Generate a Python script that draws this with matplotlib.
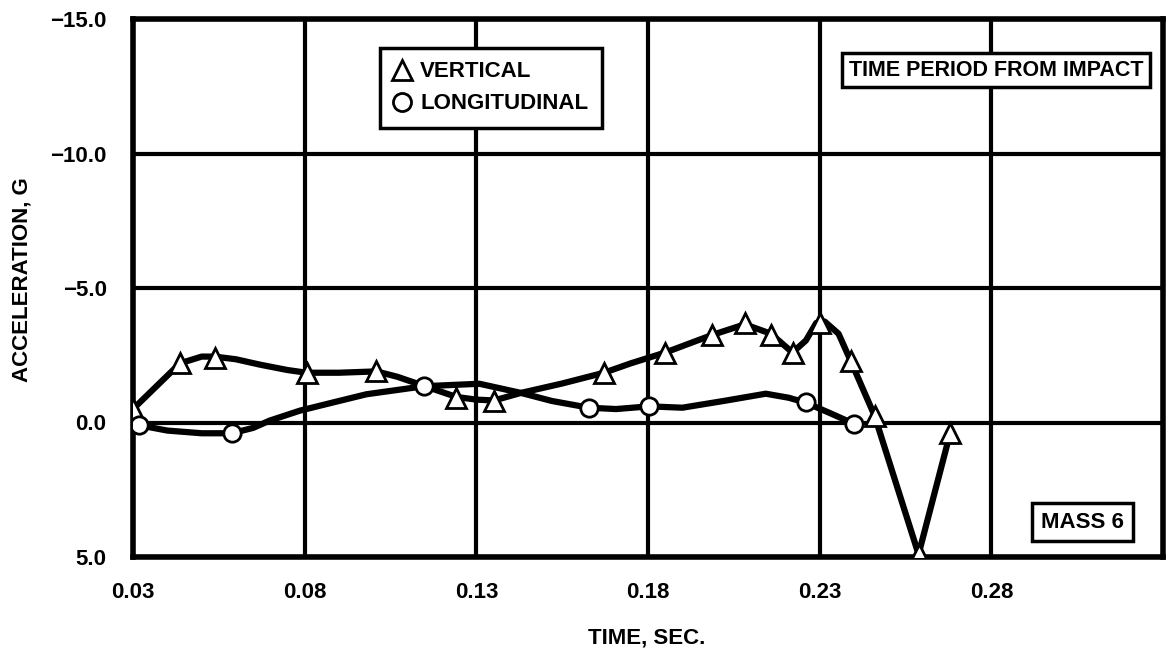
import matplotlib
matplotlib.use("Agg")
import matplotlib.pyplot as plt
from matplotlib.lines import Line2D

# ── Data ──────────────────────────────────────────────────────────────────────
# marker positions (time in s, acceleration in g; negative = up on the plot)
vert_t = [0.030, 0.0437, 0.0538, 0.0806, 0.1009, 0.1242, 0.1352, 0.1672, 0.1850,
          0.1986, 0.2082, 0.2158, 0.2221, 0.230, 0.2390, 0.246, 0.2588, 0.268]
vert_g = [-0.5, -2.2, -2.4, -1.85, -1.9, -0.9, -0.8, -1.85, -2.6,
          -3.25, -3.7, -3.25, -2.6, -3.7, -2.3, -0.25, 4.9, 0.4]

long_t = [0.0317, 0.0588, 0.1149, 0.1628, 0.1803, 0.2259, 0.2400]
long_g = [0.1, 0.4, -1.35, -0.55, -0.6, -0.75, 0.05]

# faired curves
vert_curve_t = [0.030, 0.0437, 0.050, 0.0538, 0.060, 0.067, 0.075, 0.0806, 0.090,
                0.1009, 0.107, 0.115, 0.1242, 0.130, 0.1352, 0.143, 0.155, 0.1672,
                0.175, 0.1850, 0.1986, 0.2082, 0.2158, 0.2221, 0.2260, 0.2290,
                0.2315, 0.2355, 0.2390, 0.246, 0.2588, 0.268]
vert_curve_g = [-0.5, -2.2, -2.45, -2.45, -2.35, -2.15, -1.95, -1.85, -1.85,
                -1.9, -1.7, -1.35, -0.95, -0.85, -0.82, -1.1, -1.45, -1.85,
                -2.2, -2.6, -3.25, -3.65, -3.3, -2.6, -3.05, -3.7,
                -3.75, -3.3, -2.3, -0.25, 4.9, 0.4]

long_curve_t = [0.0317, 0.040, 0.050, 0.0588, 0.065, 0.0698, 0.0786, 0.090, 0.098,
                0.1149, 0.1309, 0.143, 0.152, 0.1628, 0.1707, 0.1803, 0.190, 0.202,
                0.2143, 0.221, 0.2259, 0.233, 0.2400]
long_curve_g = [0.1, 0.3, 0.4, 0.4, 0.2, -0.07, -0.44, -0.8, -1.05,
                -1.35, -1.44, -1.1, -0.8, -0.55, -0.5, -0.6, -0.55, -0.8,
                -1.07, -0.92, -0.74, -0.35, 0.05]

x_ticks = [0.03, 0.08, 0.13, 0.18, 0.23, 0.28]
y_ticks = [-15, -10, -5, 0, 5]

plt.rcParams["font.family"] = ["Liberation Sans", "DejaVu Sans"]
plt.rcParams["font.weight"] = "bold"

W, H = 1167, 654
fig = plt.figure(figsize=(W / 100, H / 100), dpi=100)
ax = fig.add_axes([133 / W, 1 - 557 / H, 1030 / W, 538 / H])

ax.set_xlim(0.03, 0.33)
ax.set_ylim(5, -15)
ax.set_xticks(x_ticks)
ax.set_xticklabels([f"{t:.2f}" for t in x_ticks])
ax.set_yticks(y_ticks)
ax.set_yticklabels([f"{v:.1f}".replace("-", "\u2212") for v in y_ticks])
ax.tick_params(length=0, labelsize=16)
ax.tick_params(axis="y", pad=19)
ax.tick_params(axis="x", pad=18)
ax.grid(True, color="black", linewidth=3)
ax.set_axisbelow(True)
for sp in ax.spines.values():
    sp.set_linewidth(4)

# curves
for ct, cg in [(vert_curve_t, vert_curve_g), (long_curve_t, long_curve_g)]:
    ax.plot(ct, cg, color="black", linewidth=4.5,
            solid_joinstyle="round", solid_capstyle="round", zorder=3)

# data points
ax.plot(vert_t, vert_g, linestyle="none", marker="^", markersize=14,
        markerfacecolor="white", markeredgecolor="black", markeredgewidth=2, zorder=4)
ax.plot(long_t, long_g, linestyle="none", marker="o", markersize=12.5,
        markerfacecolor="white", markeredgecolor="black", markeredgewidth=2, zorder=4)

# legend
handles = [
    Line2D([], [], linestyle="none", marker="^", markersize=14, markerfacecolor="white",
           markeredgecolor="black", markeredgewidth=2, label="VERTICAL"),
    Line2D([], [], linestyle="none", marker="o", markersize=13, markerfacecolor="white",
           markeredgecolor="black", markeredgewidth=2, label="LONGITUDINAL"),
]
leg = ax.legend(handles=handles, loc="upper left", bbox_to_anchor=(0.24, 0.946),
                borderaxespad=0, fancybox=False, framealpha=1, edgecolor="black",
                handlelength=0.8, handletextpad=0.4, labelspacing=0.5,
                borderpad=0.6, prop={"size": 16, "weight": "bold"})
leg.get_frame().set_linewidth(2.5)
leg.set_zorder(5)

box = dict(boxstyle="square,pad=0.3", facecolor="white", edgecolor="black", linewidth=2.5)
ax.text(0.838, 0.905, "TIME PERIOD FROM IMPACT", transform=ax.transAxes,
        ha="center", va="center", fontsize=15.5, fontweight="bold", bbox=box, zorder=5)
ax.text(0.922, 0.065, "MASS 6", transform=ax.transAxes,
        ha="center", va="center", fontsize=16, fontweight="bold",
        bbox=dict(boxstyle="square,pad=0.4", facecolor="white", edgecolor="black",
                  linewidth=2.5), zorder=5)

fig.text(22 / W, 1 - 280 / H, "ACCELERATION, G", rotation=90,
         ha="center", va="center", fontsize=16, fontweight="bold")
fig.text(647 / W, 1 - 638 / H, "TIME, SEC.",
         ha="center", va="center", fontsize=16, fontweight="bold")

fig.savefig("out.png", dpi=100)
